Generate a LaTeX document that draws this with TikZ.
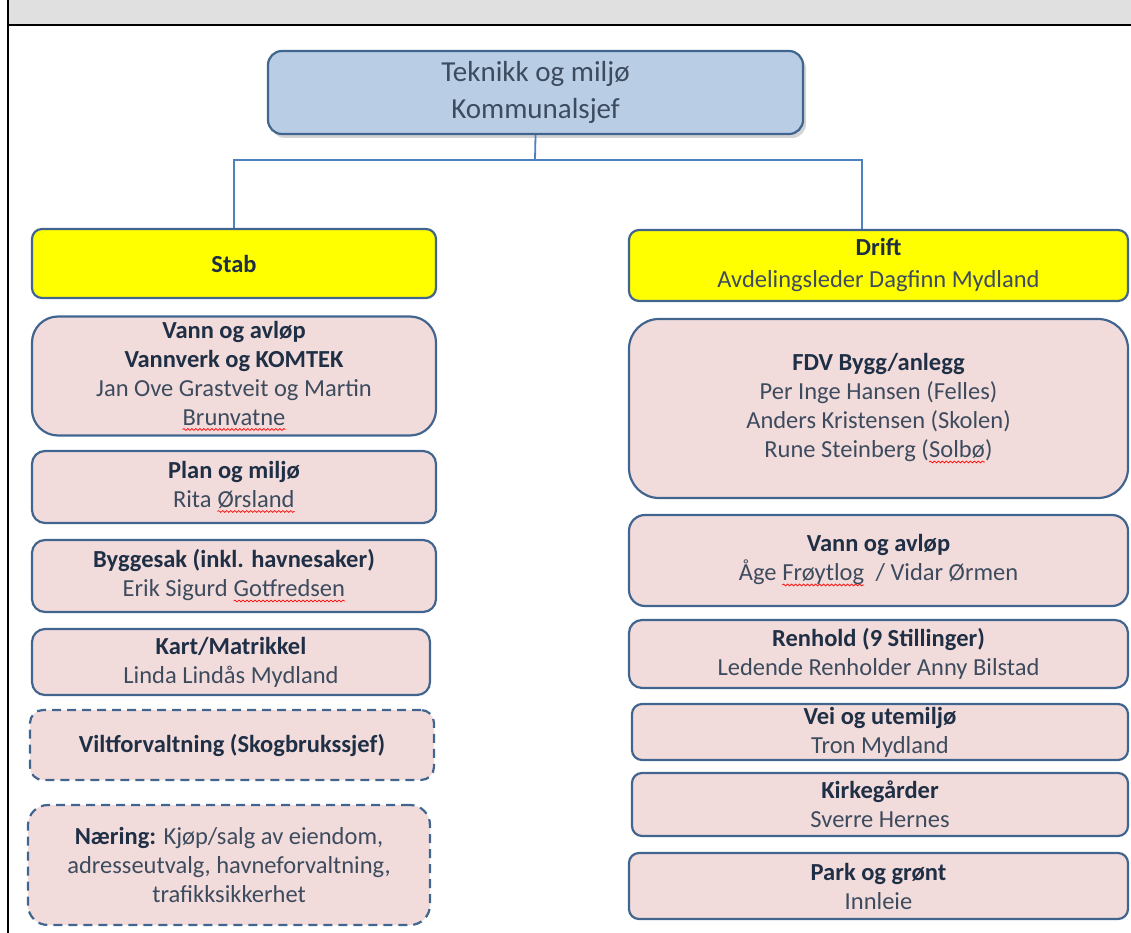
\documentclass[tikz,border=0pt]{standalone}
\usepackage{fontspec}
\setmainfont{Carlito}
\usetikzlibrary{shadows,decorations.pathmorphing}
\definecolor{boxblue}{HTML}{B9CDE5}
\definecolor{edge}{HTML}{41658F}
\definecolor{pinkfill}{HTML}{F2DCDB}
\definecolor{conn}{HTML}{4F81BD}
\definecolor{txtdark}{HTML}{1F2F45}
\definecolor{txtreg}{HTML}{3D4B5E}
\definecolor{barfill}{HTML}{E0E0E0}
\definecolor{ylw}{RGB}{255,255,0}
\newcommand\spl[1]{\tikz[baseline=(w.base),x=1pt,y=1pt]{\node[inner sep=0pt,outer sep=0pt,minimum width=0pt,minimum height=0pt,draw=none,fill=none,text=txtreg](w){#1};
  \draw[red, line width=0.7pt, sharp corners, solid, decorate, decoration={snake, amplitude=0.9pt, segment length=4pt}] ([yshift=-4pt]w.base west) -- ([yshift=-4pt]w.base east);}}
\newcommand\hd[1]{\textbf{\textcolor{txtdark}{#1}}}
\begin{document}
\begin{tikzpicture}[x=1pt,y=-1pt,
  base/.style={draw=edge, line width=2.2pt, rounded corners=13pt, align=center,
    inner sep=0pt, font=\fontsize{24.5}{29}\selectfont, text=txtreg},
  pbox/.style={base, fill=pinkfill},
  ybox/.style={base, fill=ylw},
  dbox/.style={pbox, dash pattern=on 9pt off 6pt},
  link/.style={draw=conn, line width=1.8pt}]
\useasboundingbox (0,0) rectangle (1131,933);
% header bar
\fill[barfill] (9,0) rectangle (1131,25);
\draw[black, line width=1.5pt] (8,25) -- (1131,25);
\draw[black, line width=2pt] (8,0) -- (8,933);

\node[base, fill=boxblue, minimum width=535pt, minimum height=83pt, rounded corners=14pt,
  font=\fontsize{29}{37}\selectfont, text=txtreg,
  drop shadow={opacity=0.35, shadow xshift=3pt, shadow yshift=-4pt}]
  (top) at (535.5,92.5) {Teknikk og miljø\\Kommunalsjef};

\node[ybox, minimum width=404pt, minimum height=69pt, rounded corners=10pt] (stab) at (234,263.5) {\hd{Stab}};
\node[ybox, minimum width=499pt, minimum height=71pt, rounded corners=10pt,
  font=\fontsize{24.5}{32}\selectfont] (drift) at (878.5,265.5) {\hd{Drift}\\Avdelingsleder Dagfinn Mydland};

\coordinate (j) at (535,160);
\coordinate (dj) at (862,229);
\draw[link] (top.south) -- (j);
\draw[link] (stab.north) |- (j) -| (dj);

% left column
\node[pbox, minimum width=404pt, minimum height=119pt, rounded corners=26pt] (l1) at (234,376)
  {\hd{Vann og avløp}\\\hd{Vannverk og KOMTEK}\\Jan Ove Grastveit og Martin\\\spl{Brunvatne}};
\node[pbox, minimum width=404pt, minimum height=72pt] (l2) at (234,487)
  {\hd{Plan og miljø}\\Rita \spl{Ørsland}};
\node[pbox, minimum width=404pt, minimum height=72pt] (l3) at (234,576)
  {\hd{Byggesak (inkl. havnesaker)}\\Erik Sigurd \spl{Gotfredsen}};
\node[pbox, minimum width=398pt, minimum height=66pt] (l4) at (231,662)
  {\hd{Kart/Matrikkel}\\Linda Lindås Mydland};
\node[dbox, minimum width=404pt, minimum height=70pt] (l5) at (232,745)
  {\hd{Viltforvaltning (Skogbrukssjef)}};
\node[dbox, minimum width=402pt, minimum height=120pt, rounded corners=20pt] (l6) at (229,865)
  {\hd{Næring:} Kjøp/salg av eiendom,\\adresseutvalg, havneforvaltning,\\trafikksikkerhet};

% right column
\node[pbox, minimum width=499pt, minimum height=179pt, rounded corners=30pt] (r1) at (878.5,408.5)
  {\hd{FDV Bygg/anlegg}\\Per Inge Hansen (Felles)\\Anders Kristensen (Skolen)\\Rune Steinberg (\spl{Solbø})};
\node[pbox, minimum width=499pt, minimum height=91pt, rounded corners=16pt] (r2) at (878.5,560.5)
  {\hd{Vann og avløp}\\Åge \spl{Frøytlog}\ \ / Vidar Ørmen};
\node[pbox, minimum width=499pt, minimum height=68pt] (r3) at (878.5,654)
  {\hd{Renhold (9 Stillinger)}\\Ledende Renholder Anny Bilstad};
\node[pbox, minimum width=496pt, minimum height=56pt, rounded corners=10pt] (r4) at (880,732)
  {\hd{Vei og utemiljø}\\Tron Mydland};
\node[pbox, minimum width=496pt, minimum height=63pt, rounded corners=10pt] (r5) at (880,804.5)
  {\hd{Kirkegårder}\\Sverre Hernes};
\node[pbox, minimum width=499pt, minimum height=66pt, rounded corners=10pt] (r6) at (878.5,886)
  {\hd{Park og grønt}\\Innleie};
\end{tikzpicture}
\end{document}
